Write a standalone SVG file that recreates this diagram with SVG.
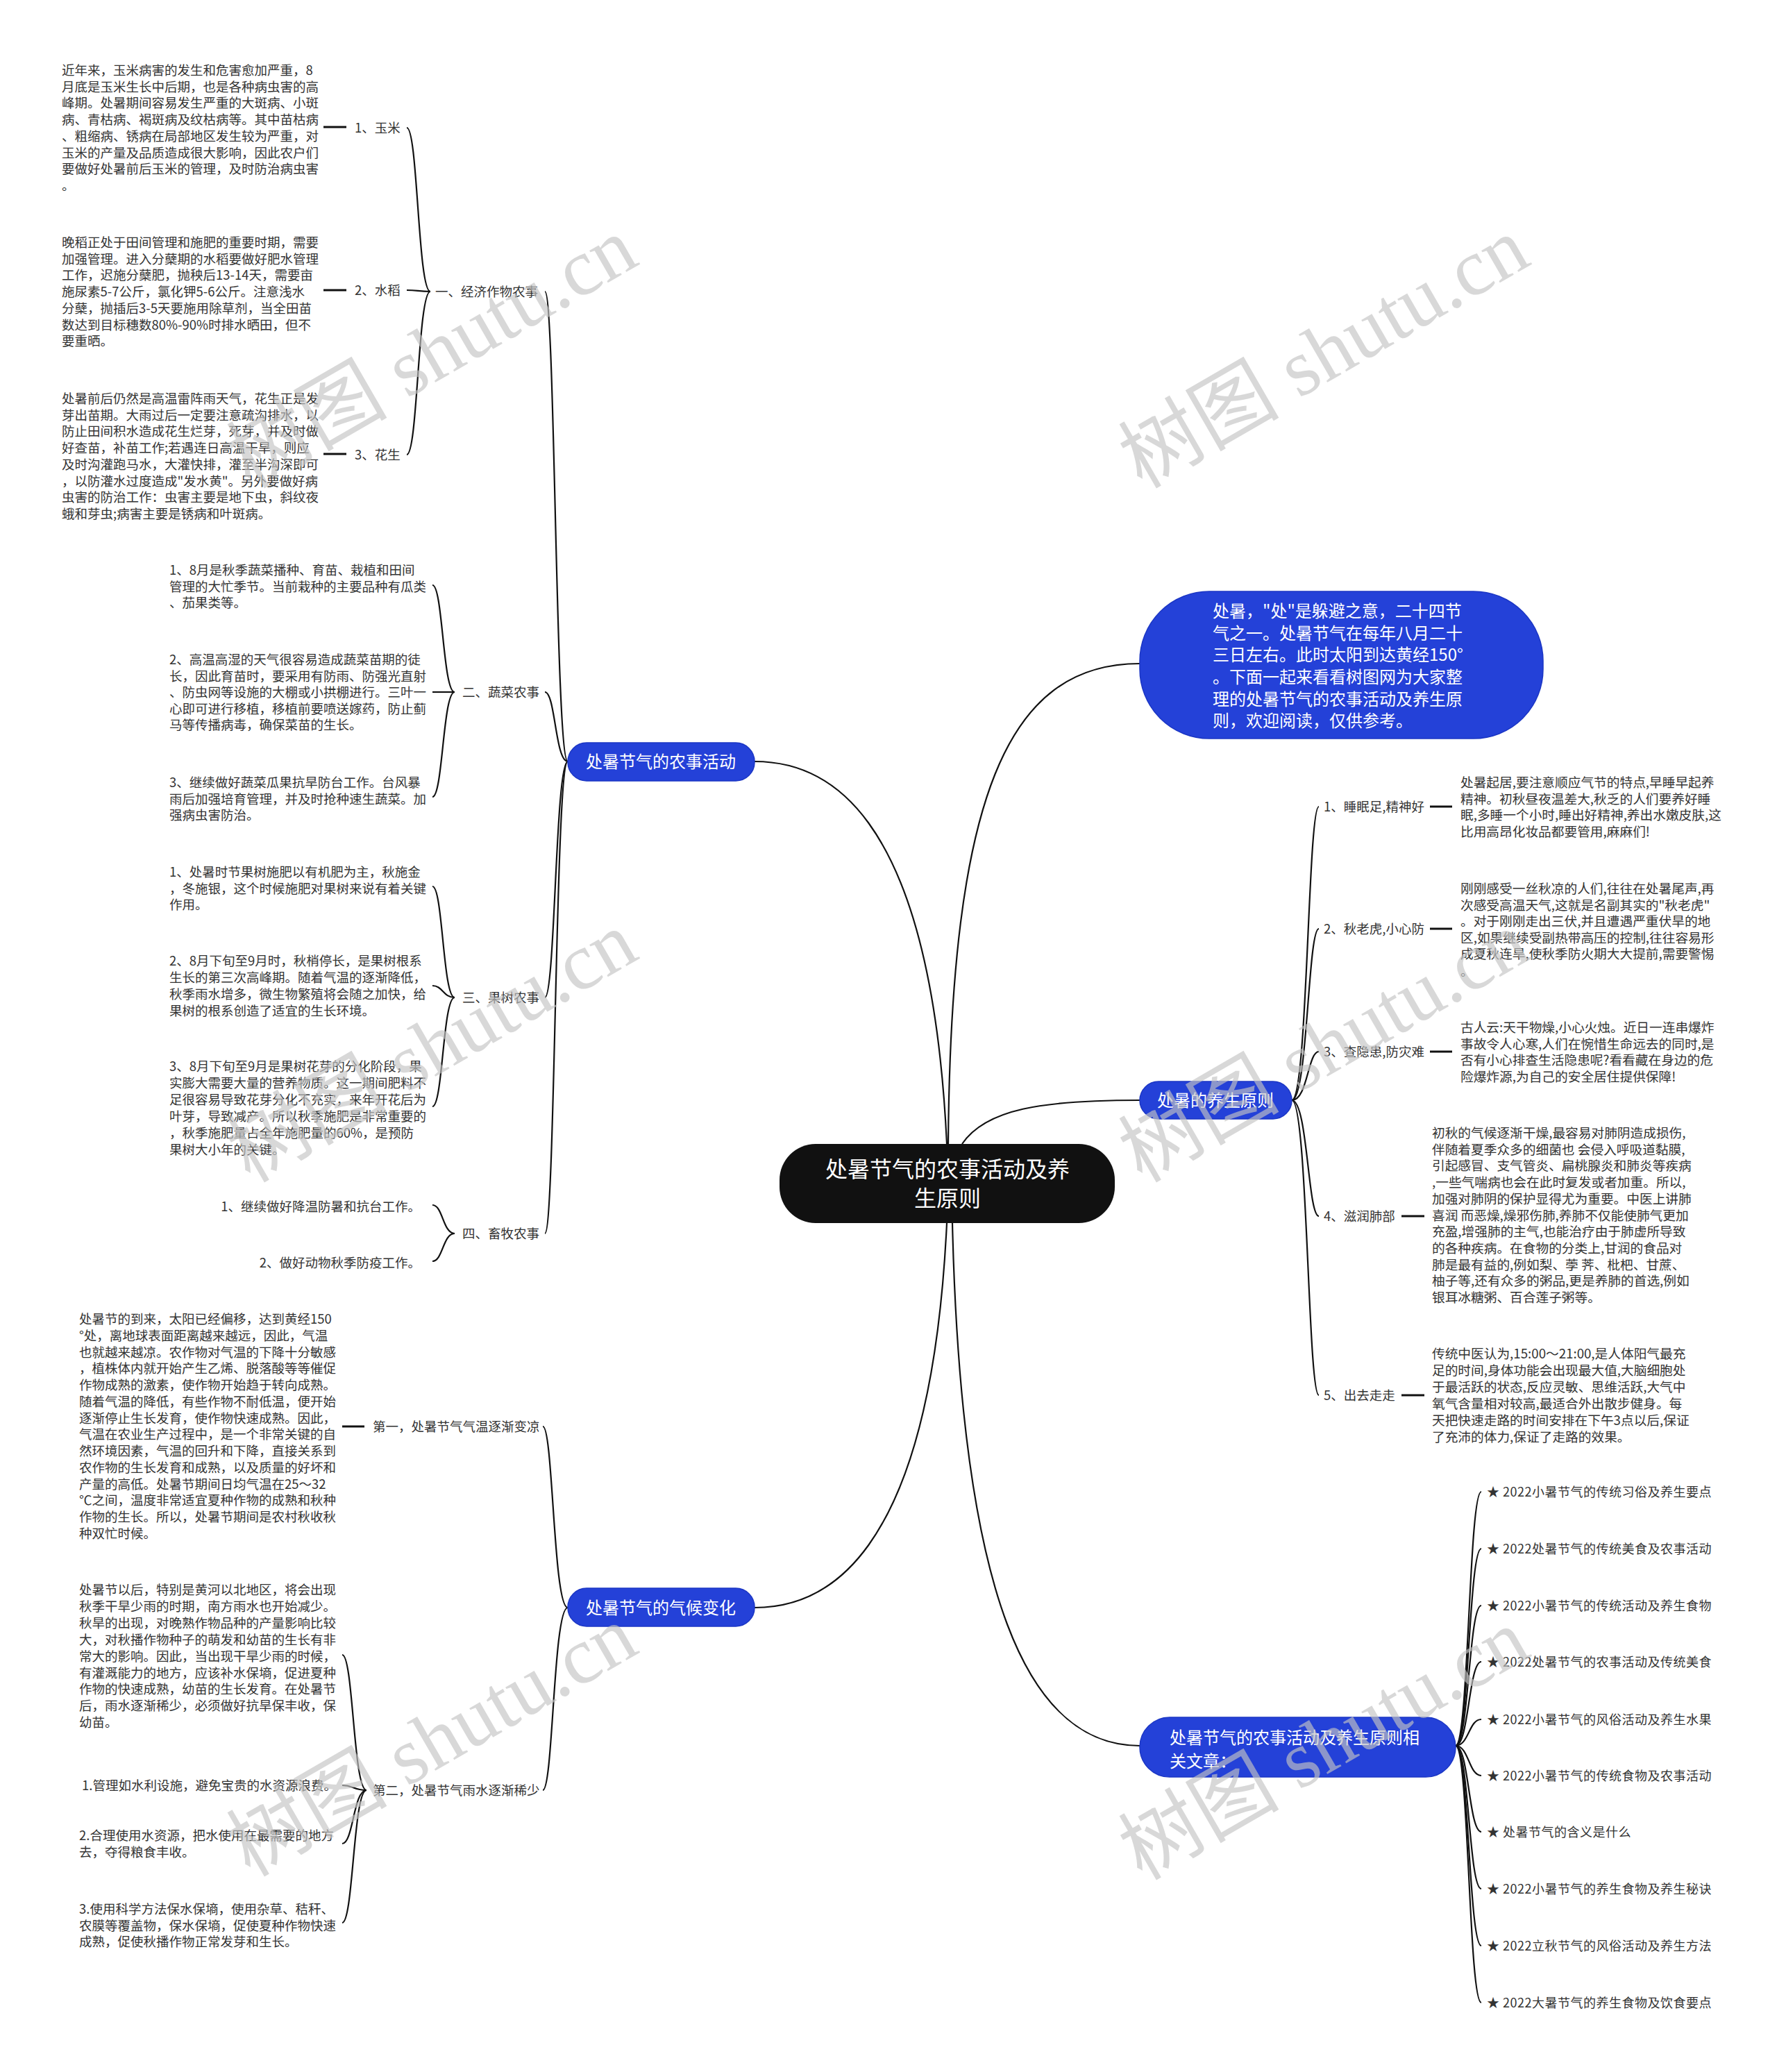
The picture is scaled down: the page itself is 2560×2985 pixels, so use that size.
<svg xmlns="http://www.w3.org/2000/svg" width="2560" height="2985" viewBox="0 0 2560 2985">
<style>
text{font-family:"Noto Sans CJK SC","Noto Sans",sans-serif}
.t{font-size:18.5px;fill:#333}
.tr{font-size:18.7px;fill:#333}
.lbl{font-size:18.5px;fill:#333}
.art{font-size:18px;letter-spacing:0.5px;fill:#333}
.w{font-size:24px;fill:#fff}
.blue{fill:#2441d8;stroke:#1b36c4;stroke-width:1.5}
.c{fill:none;stroke:#111;stroke-width:2.2}
.s{stroke:#111;stroke-width:3}
.wm{font-family:"Liberation Serif","Noto Sans CJK SC",serif;font-size:116px;fill:#c4c4c4;opacity:.65}
</style>
<rect width="2560" height="2985" fill="#fff"/>
<g id="connectors">
<path class="c" d="M1364 1648 C1340 1150 1180 1097 1087 1097"/>
<path class="c" d="M1364 1762 C1340 2260 1180 2316 1087 2316"/>
<path class="c" d="M1366 1648 C1370 1150 1450 956 1642 956"/>
<path class="c" d="M1386 1648 C1420 1598 1500 1585 1642 1585"/>
<path class="c" d="M1372 1762 C1385 2300 1480 2515 1642 2515"/>
<path class="c" d="M818 1097 C800 1097 800 420 785 420"/>
<path class="c" d="M818 1097 C800 1097 800 997 785 997"/>
<path class="c" d="M818 1097 C800 1097 800 1437 785 1437"/>
<path class="c" d="M818 1097 C800 1097 800 1777 785 1777"/>
<path class="c" d="M818 2316 C797 2316 797 2055 782 2055"/>
<path class="c" d="M818 2316 C797 2316 797 2579 782 2579"/>
<path class="c" d="M620 420 C602 420 602 184 586 184"/>
<path class="c" d="M620 420 C602 420 602 418 586 418"/>
<path class="c" d="M620 420 C602 420 602 655 586 655"/>
<path class="c" d="M655 997 C638 997 638 843 623 843"/>
<path class="c" d="M655 997 C638 997 638 997 623 997"/>
<path class="c" d="M655 997 C638 997 638 1148 623 1148"/>
<path class="c" d="M655 1437 C638 1437 638 1277 623 1277"/>
<path class="c" d="M655 1437 C638 1437 638 1420 623 1420"/>
<path class="c" d="M655 1437 C638 1437 638 1594 623 1594"/>
<path class="c" d="M655 1777 C638 1777 638 1736 623 1736"/>
<path class="c" d="M655 1777 C638 1777 638 1817 623 1817"/>
<path class="c" d="M528 2579 C509 2579 509 2384 493 2384"/>
<path class="c" d="M528 2579 C509 2579 509 2572 493 2572"/>
<path class="c" d="M528 2579 C509 2579 509 2656 493 2656"/>
<path class="c" d="M528 2579 C509 2579 509 2770 493 2770"/>
<path class="c" d="M1861 1585 C1884 1585 1884 1162 1900 1162"/>
<path class="c" d="M1861 1585 C1884 1585 1884 1338 1900 1338"/>
<path class="c" d="M1861 1585 C1884 1585 1884 1515 1900 1515"/>
<path class="c" d="M1861 1585 C1884 1585 1884 1752 1900 1752"/>
<path class="c" d="M1861 1585 C1884 1585 1884 2010 1900 2010"/>
<path class="c" d="M2097 2515 C2116 2515 2116 2149 2134 2149"/>
<path class="c" d="M2097 2515 C2116 2515 2116 2231 2134 2231"/>
<path class="c" d="M2097 2515 C2116 2515 2116 2313 2134 2313"/>
<path class="c" d="M2097 2515 C2116 2515 2116 2394 2134 2394"/>
<path class="c" d="M2097 2515 C2116 2515 2116 2477 2134 2477"/>
<path class="c" d="M2097 2515 C2116 2515 2116 2558 2134 2558"/>
<path class="c" d="M2097 2515 C2116 2515 2116 2639 2134 2639"/>
<path class="c" d="M2097 2515 C2116 2515 2116 2721 2134 2721"/>
<path class="c" d="M2097 2515 C2116 2515 2116 2803 2134 2803"/>
<path class="c" d="M2097 2515 C2116 2515 2116 2885 2134 2885"/>
<line class="s" x1="466" y1="183" x2="499" y2="183"/>
<line class="s" x1="466" y1="418" x2="499" y2="418"/>
<line class="s" x1="466" y1="654" x2="499" y2="654"/>
<line class="s" x1="493" y1="2055" x2="525" y2="2055"/>
<line class="s" x1="2060" y1="1162" x2="2092" y2="1162"/>
<line class="s" x1="2060" y1="1338" x2="2092" y2="1338"/>
<line class="s" x1="2060" y1="1515" x2="2092" y2="1515"/>
<line class="s" x1="2019" y1="1752" x2="2052" y2="1752"/>
<line class="s" x1="2019" y1="2010" x2="2052" y2="2010"/>
</g>
<g id="node-center">
<rect x="1123" y="1648" width="483" height="114" rx="52" fill="#111"/>
<text font-size="32" fill="#fff" text-anchor="middle" x="1365" y="1696">处暑节气的农事活动及养</text>
<text font-size="32" fill="#fff" text-anchor="middle" x="1365" y="1738">生原则</text>
</g>
<g id="node-farm">
<rect class="blue" x="818" y="1070" width="269" height="55" rx="27"/>
<text class="w" x="952" y="1106" text-anchor="middle">处暑节气的农事活动</text>
</g>
<g id="node-climate">
<rect class="blue" x="818" y="2288" width="269" height="55" rx="27"/>
<text class="w" x="952" y="2325" text-anchor="middle">处暑节气的气候变化</text>
</g>
<g id="node-intro">
<rect class="blue" x="1642" y="852" width="581" height="212" rx="100"/>
<text class="w"><tspan x="1747" y="889">处暑，"处"是躲避之意，二十四节</tspan><tspan x="1747" y="921">气之一。处暑节气在每年八月二十</tspan><tspan x="1747" y="952">三日左右。此时太阳到达黄经150°</tspan><tspan x="1747" y="984">。下面一起来看看树图网为大家整</tspan><tspan x="1747" y="1016">理的处暑节气的农事活动及养生原</tspan><tspan x="1747" y="1047">则，欢迎阅读，仅供参考。</tspan></text>
</g>
<g id="node-health">
<rect class="blue" x="1642" y="1558" width="219" height="54" rx="27"/>
<text class="w" x="1751" y="1594" text-anchor="middle">处暑的养生原则</text>
</g>
<g id="node-related">
<rect class="blue" x="1642" y="2474" width="455" height="86" rx="43"/>
<text class="w"><tspan x="1685" y="2512">处暑节气的农事活动及养生原则相</tspan><tspan x="1685" y="2546">关文章：</tspan></text>
</g>
<g id="node-econ"><text class="lbl" x="627" y="427">一、经济作物农事</text></g>
<g id="node-veg"><text class="lbl" x="666" y="1004">二、蔬菜农事</text></g>
<g id="node-fruit"><text class="lbl" x="666" y="1444">三、果树农事</text></g>
<g id="node-livestock"><text class="lbl" x="666" y="1784">四、畜牧农事</text></g>
<g id="node-corn-label"><text class="lbl" x="511" y="191">1、玉米</text></g>
<g id="node-rice-label"><text class="lbl" x="511" y="425">2、水稻</text></g>
<g id="node-peanut-label"><text class="lbl" x="511" y="662">3、花生</text></g>
<g id="node-corn-text"><text class="t"><tspan x="89" y="108">近年来，玉米病害的发生和危害愈加严重，8</tspan><tspan x="89" dy="23.7">月底是玉米生长中后期，也是各种病虫害的高</tspan><tspan x="89" dy="23.7">峰期。处暑期间容易发生严重的大斑病、小斑</tspan><tspan x="89" dy="23.7">病、青枯病、褐斑病及纹枯病等。其中苗枯病</tspan><tspan x="89" dy="23.7">、粗缩病、锈病在局部地区发生较为严重，对</tspan><tspan x="89" dy="23.7">玉米的产量及品质造成很大影响，因此农户们</tspan><tspan x="89" dy="23.7">要做好处暑前后玉米的管理，及时防治病虫害</tspan><tspan x="89" dy="23.7">。</tspan></text></g>
<g id="node-rice-text"><text class="t"><tspan x="89" y="356">晚稻正处于田间管理和施肥的重要时期，需要</tspan><tspan x="89" dy="23.7">加强管理。进入分蘖期的水稻要做好肥水管理</tspan><tspan x="89" dy="23.7">工作，迟施分蘖肥，抛秧后13-14天，需要亩</tspan><tspan x="89" dy="23.7">施尿素5-7公斤，氯化钾5-6公斤。注意浅水</tspan><tspan x="89" dy="23.7">分蘖，抛插后3-5天要施用除草剂，当全田苗</tspan><tspan x="89" dy="23.7">数达到目标穗数80%-90%时排水晒田，但不</tspan><tspan x="89" dy="23.7">要重晒。</tspan></text></g>
<g id="node-peanut-text"><text class="t"><tspan x="89" y="581">处暑前后仍然是高温雷阵雨天气，花生正是发</tspan><tspan x="89" dy="23.7">芽出苗期。大雨过后一定要注意疏沟排水，以</tspan><tspan x="89" dy="23.7">防止田间积水造成花生烂芽，死芽，并及时做</tspan><tspan x="89" dy="23.7">好查苗，补苗工作;若遇连日高温干旱，则应</tspan><tspan x="89" dy="23.7">及时沟灌跑马水，大灌快排，灌至半沟深即可</tspan><tspan x="89" dy="23.7">，以防灌水过度造成"发水黄"。另外要做好病</tspan><tspan x="89" dy="23.7">虫害的防治工作：虫害主要是地下虫，斜纹夜</tspan><tspan x="89" dy="23.7">蛾和芽虫;病害主要是锈病和叶斑病。</tspan></text></g>
<g id="node-veg1"><text class="t"><tspan x="244" y="828">1、8月是秋季蔬菜播种、育苗、栽植和田间</tspan><tspan x="244" dy="23.5">管理的大忙季节。当前栽种的主要品种有瓜类</tspan><tspan x="244" dy="23.5">、茄果类等。</tspan></text></g>
<g id="node-veg2"><text class="t"><tspan x="244" y="957">2、高温高湿的天气很容易造成蔬菜苗期的徒</tspan><tspan x="244" dy="23.5">长，因此育苗时，要采用有防雨、防强光直射</tspan><tspan x="244" dy="23.5">、防虫网等设施的大棚或小拱棚进行。三叶一</tspan><tspan x="244" dy="23.5">心即可进行移植，移植前要喷送嫁药，防止蓟</tspan><tspan x="244" dy="23.5">马等传播病毒，确保菜苗的生长。</tspan></text></g>
<g id="node-veg3"><text class="t"><tspan x="244" y="1134">3、继续做好蔬菜瓜果抗旱防台工作。台风暴</tspan><tspan x="244" dy="23.5">雨后加强培育管理，并及时抢种速生蔬菜。加</tspan><tspan x="244" dy="23.5">强病虫害防治。</tspan></text></g>
<g id="node-fruit1"><text class="t"><tspan x="244" y="1263">1、处暑时节果树施肥以有机肥为主，秋施金</tspan><tspan x="244" dy="23.6">，冬施银，这个时候施肥对果树来说有着关键</tspan><tspan x="244" dy="23.6">作用。</tspan></text></g>
<g id="node-fruit2"><text class="t"><tspan x="244" y="1391">2、8月下旬至9月时，秋梢停长，是果树根系</tspan><tspan x="244" dy="24">生长的第三次高峰期。随着气温的逐渐降低，</tspan><tspan x="244" dy="24">秋季雨水增多，微生物繁殖将会随之加快，给</tspan><tspan x="244" dy="24">果树的根系创造了适宜的生长环境。</tspan></text></g>
<g id="node-fruit3"><text class="t"><tspan x="244" y="1543">3、8月下旬至9月是果树花芽的分化阶段，果</tspan><tspan x="244" dy="24">实膨大需要大量的营养物质。这一期间肥料不</tspan><tspan x="244" dy="24">足很容易导致花芽分化不充实，来年开花后为</tspan><tspan x="244" dy="24">叶芽，导致减产。所以秋季施肥是非常重要的</tspan><tspan x="244" dy="24">，秋季施肥量占全年施肥量的60%，是预防</tspan><tspan x="244" dy="24">果树大小年的关键。</tspan></text></g>
<g id="node-live1"><text class="t" x="606" y="1745" text-anchor="end">1、继续做好降温防暑和抗台工作。</text></g>
<g id="node-live2"><text class="t" x="606" y="1826" text-anchor="end">2、做好动物秋季防疫工作。</text></g>
<g id="node-clim1-label"><text class="lbl" x="537" y="2062">第一，处暑节气气温逐渐变凉</text></g>
<g id="node-clim2-label"><text class="lbl" x="537" y="2586">第二，处暑节气雨水逐渐稀少</text></g>
<g id="node-clim1-text"><text class="t"><tspan x="114" y="1907">处暑节的到来，太阳已经偏移，达到黄经150</tspan><tspan x="114" dy="23.77">°处，离地球表面距离越来越远，因此，气温</tspan><tspan x="114" dy="23.77">也就越来越凉。农作物对气温的下降十分敏感</tspan><tspan x="114" dy="23.77">，植株体内就开始产生乙烯、脱落酸等等催促</tspan><tspan x="114" dy="23.77">作物成熟的激素，使作物开始趋于转向成熟。</tspan><tspan x="114" dy="23.77">随着气温的降低，有些作物不耐低温，便开始</tspan><tspan x="114" dy="23.77">逐渐停止生长发育，使作物快速成熟。因此，</tspan><tspan x="114" dy="23.77">气温在农业生产过程中，是一个非常关键的自</tspan><tspan x="114" dy="23.77">然环境因素，气温的回升和下降，直接关系到</tspan><tspan x="114" dy="23.77">农作物的生长发育和成熟，以及质量的好坏和</tspan><tspan x="114" dy="23.77">产量的高低。处暑节期间日均气温在25～32</tspan><tspan x="114" dy="23.77">℃之间，温度非常适宜夏种作物的成熟和秋种</tspan><tspan x="114" dy="23.77">作物的生长。所以，处暑节期间是农村秋收秋</tspan><tspan x="114" dy="23.77">种双忙时候。</tspan></text></g>
<g id="node-clim2-text"><text class="t"><tspan x="114" y="2297">处暑节以后，特别是黄河以北地区，将会出现</tspan><tspan x="114" dy="23.9">秋季干旱少雨的时期，南方雨水也开始减少。</tspan><tspan x="114" dy="23.9">秋旱的出现，对晚熟作物品种的产量影响比较</tspan><tspan x="114" dy="23.9">大，对秋播作物种子的萌发和幼苗的生长有非</tspan><tspan x="114" dy="23.9">常大的影响。因此，当出现干旱少雨的时候，</tspan><tspan x="114" dy="23.9">有灌溉能力的地方，应该补水保墒，促进夏种</tspan><tspan x="114" dy="23.9">作物的快速成熟，幼苗的生长发育。在处暑节</tspan><tspan x="114" dy="23.9">后，雨水逐渐稀少，必须做好抗旱保丰收，保</tspan><tspan x="114" dy="23.9">幼苗。</tspan></text></g>
<g id="node-clim2-item1"><text class="t" x="118" y="2579">1.管理如水利设施，避免宝贵的水资源浪费。</text></g>
<g id="node-clim2-item2"><text class="t"><tspan x="114" y="2651">2.合理使用水资源，把水使用在最需要的地方</tspan><tspan x="114" dy="23.7">去，夺得粮食丰收。</tspan></text></g>
<g id="node-clim2-item3"><text class="t"><tspan x="114" y="2757">3.使用科学方法保水保墒，使用杂草、秸秆、</tspan><tspan x="114" dy="23.7">农膜等覆盖物，保水保墒，促使夏种作物快速</tspan><tspan x="114" dy="23.7">成熟，促使秋播作物正常发芽和生长。</tspan></text></g>
<g id="node-h1-label"><text class="lbl" x="1907" y="1169">1、睡眠足,精神好</text></g>
<g id="node-h2-label"><text class="lbl" x="1907" y="1345">2、秋老虎,小心防</text></g>
<g id="node-h3-label"><text class="lbl" x="1907" y="1522">3、查隐患,防灾难</text></g>
<g id="node-h4-label"><text class="lbl" x="1907" y="1759">4、滋润肺部</text></g>
<g id="node-h5-label"><text class="lbl" x="1907" y="2017">5、出去走走</text></g>
<g id="node-h1-text"><text class="tr"><tspan x="2104" y="1134">处暑起居,要注意顺应气节的特点,早睡早起养</tspan><tspan x="2104" dy="23.5">精神。初秋昼夜温差大,秋乏的人们要养好睡</tspan><tspan x="2104" dy="23.5">眠,多睡一个小时,睡出好精神,养出水嫩皮肤,这</tspan><tspan x="2104" dy="23.5">比用高昂化妆品都要管用,麻麻们!</tspan></text></g>
<g id="node-h2-text"><text class="tr"><tspan x="2104" y="1287">刚刚感受一丝秋凉的人们,往往在处暑尾声,再</tspan><tspan x="2104" dy="23.6">次感受高温天气,这就是名副其实的"秋老虎"</tspan><tspan x="2104" dy="23.6">。对于刚刚走出三伏,并且遭遇严重伏旱的地</tspan><tspan x="2104" dy="23.6">区,如果继续受副热带高压的控制,往往容易形</tspan><tspan x="2104" dy="23.6">成夏秋连旱,使秋季防火期大大提前,需要警惕</tspan><tspan x="2104" dy="25">。</tspan></text></g>
<g id="node-h3-text"><text class="tr"><tspan x="2104" y="1487">古人云:天干物燥,小心火烛。近日一连串爆炸</tspan><tspan x="2104" dy="23.5">事故令人心寒,人们在惋惜生命远去的同时,是</tspan><tspan x="2104" dy="23.5">否有小心排查生活隐患呢?看看藏在身边的危</tspan><tspan x="2104" dy="23.5">险爆炸源,为自己的安全居住提供保障!</tspan></text></g>
<g id="node-h4-text"><text class="tr"><tspan x="2063" y="1639">初秋的气候逐渐干燥,最容易对肺阴造成损伤,</tspan><tspan x="2063" dy="23.7">伴随着夏季众多的细菌也 会侵入呼吸道黏膜,</tspan><tspan x="2063" dy="23.7">引起感冒、支气管炎、扁桃腺炎和肺炎等疾病</tspan><tspan x="2063" dy="23.7">,一些气喘病也会在此时复发或者加重。所以,</tspan><tspan x="2063" dy="23.7">加强对肺阴的保护显得尤为重要。中医上讲肺</tspan><tspan x="2063" dy="23.7">喜润 而恶燥,燥邪伤肺,养肺不仅能使肺气更加</tspan><tspan x="2063" dy="23.7">充盈,增强肺的主气,也能治疗由于肺虚所导致</tspan><tspan x="2063" dy="23.7">的各种疾病。在食物的分类上,甘润的食品对</tspan><tspan x="2063" dy="23.7">肺是最有益的,例如梨、荸 荠、枇杷、甘蔗、</tspan><tspan x="2063" dy="23.7">柚子等,还有众多的粥品,更是养肺的首选,例如</tspan><tspan x="2063" dy="23.7">银耳冰糖粥、百合莲子粥等。</tspan></text></g>
<g id="node-h5-text"><text class="tr"><tspan x="2063" y="1957">传统中医认为,15:00～21:00,是人体阳气最充</tspan><tspan x="2063" dy="24">足的时间,身体功能会出现最大值,大脑细胞处</tspan><tspan x="2063" dy="24">于最活跃的状态,反应灵敏、思维活跃,大气中</tspan><tspan x="2063" dy="24">氧气含量相对较高,最适合外出散步健身。每</tspan><tspan x="2063" dy="24">天把快速走路的时间安排在下午3点以后,保证</tspan><tspan x="2063" dy="24">了充沛的体力,保证了走路的效果。</tspan></text></g>
<g id="node-articles">
<text class="art" x="2142" y="2156">★ 2022小暑节气的传统习俗及养生要点</text>
<text class="art" x="2142" y="2238">★ 2022处暑节气的传统美食及农事活动</text>
<text class="art" x="2142" y="2320">★ 2022小暑节气的传统活动及养生食物</text>
<text class="art" x="2142" y="2401">★ 2022处暑节气的农事活动及传统美食</text>
<text class="art" x="2142" y="2484">★ 2022小暑节气的风俗活动及养生水果</text>
<text class="art" x="2142" y="2565">★ 2022小暑节气的传统食物及农事活动</text>
<text class="art" x="2142" y="2646">★ 处暑节气的含义是什么</text>
<text class="art" x="2142" y="2728">★ 2022小暑节气的养生食物及养生秘诀</text>
<text class="art" x="2142" y="2810">★ 2022立秋节气的风俗活动及养生方法</text>
<text class="art" x="2142" y="2892">★ 2022大暑节气的养生食物及饮食要点</text>
</g>
<g id="watermarks">
<text class="wm" transform="translate(360 705) rotate(-30)">树图 shutu.cn</text>
<text class="wm" transform="translate(1645 705) rotate(-30)">树图 shutu.cn</text>
<text class="wm" transform="translate(360 1705) rotate(-30)">树图 shutu.cn</text>
<text class="wm" transform="translate(1645 1705) rotate(-30)">树图 shutu.cn</text>
<text class="wm" transform="translate(360 2705) rotate(-30)">树图 shutu.cn</text>
<text class="wm" transform="translate(1645 2710) rotate(-30)">树图 shutu.cn</text>
</g>
</svg>
